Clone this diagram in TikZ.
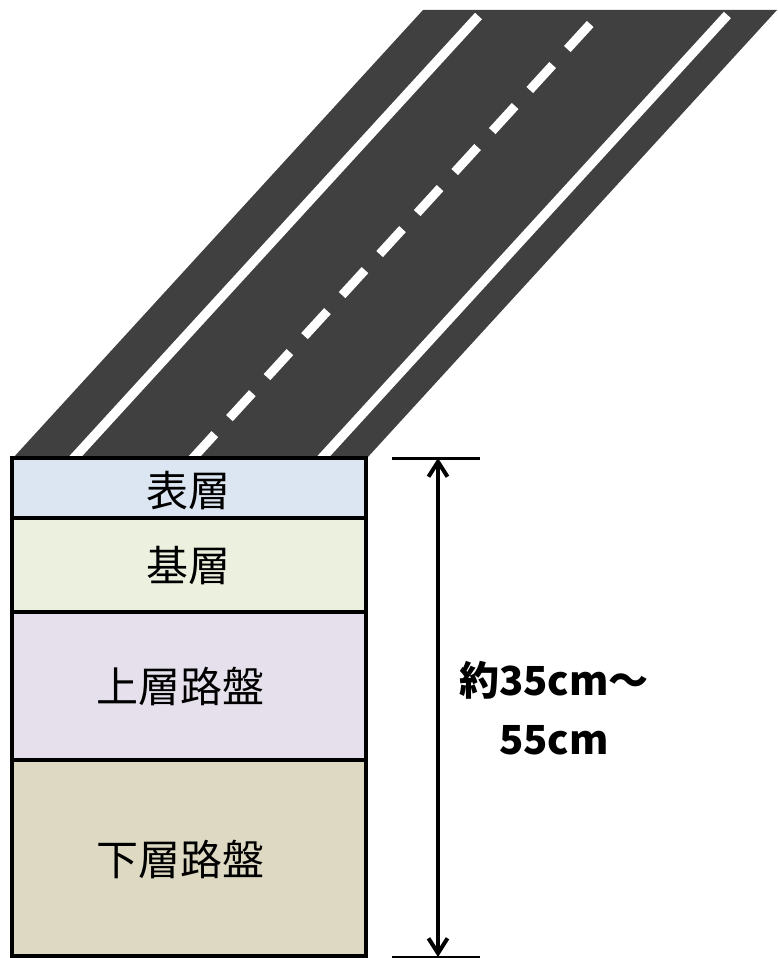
\documentclass[tikz,border=0pt]{standalone}
\usepackage{fontspec}
\newfontfamily\jp{Noto Sans CJK JP}
\usetikzlibrary{arrows.meta}
\definecolor{asphalt}{HTML}{404040}
\definecolor{surfacecol}{HTML}{DCE6F2}
\definecolor{basecol}{HTML}{EBF1DE}
\definecolor{uppercol}{HTML}{E6E0EC}
\definecolor{lowercol}{HTML}{DDD9C3}
\tikzset{
  roadline/.style={white, line width=9.5pt, line cap=butt},
  layerline/.style={black, line width=4pt},
  layerlabel/.style={font=\jp\fontsize{42}{50}\selectfont, inner sep=0pt},
  dimbar/.style={black, line width=3pt},
  dimarrow/.style={black, line width=4pt,
    {Straight Barb[length=15pt,width=19pt]}-{Straight Barb[length=15pt,width=19pt]}},
  dimlabel/.style={font=\jp\bfseries\fontsize{40}{59}\selectfont, align=center, inner sep=0pt}
}
\begin{document}
\begin{tikzpicture}[x=1pt,y=-1pt]
\useasboundingbox (0,0) rectangle (777,958);

% road surface seen in perspective
\fill[asphalt] (13,458) -- (367,458) -- (777,10) -- (423,10) -- cycle;
\begin{scope}
  \clip (13,458) -- (367,458) -- (777,10) -- (423,10) -- cycle;
  % edge lines
  \draw[roadline] (55.7,478) -- (478.5,16);
  \draw[roadline] (303.7,478) -- (727.4,15);
  % centre line, dashed from the far end
  \draw[roadline, line width=9pt, dash pattern=on 33.9pt off 21.7pt]
    (590.2,24) -- (174.7,478);
\end{scope}

% pavement layers
\fill[surfacecol] (12,458) rectangle (366,518);
\fill[basecol]    (12,518) rectangle (366,612);
\fill[uppercol]   (12,612) rectangle (366,760);
\fill[lowercol]   (12,760) rectangle (366,956);
\draw[layerline] (12,518) -- (366,518);
\draw[layerline] (12,612) -- (366,612);
\draw[layerline] (12,760) -- (366,760);
\draw[layerline] (12,458) rectangle (366,956);

\node[layerlabel] (surface) at (188.5,491) {表層};
\node[layerlabel] (base)    at (188.5,566) {基層};
\node[layerlabel] (upper)   at (180,686)   {上層路盤};
\node[layerlabel] (lower)   at (180,859)   {下層路盤};

% overall thickness dimension
\coordinate (dimtop) at (438,458);
\coordinate (dimbot) at (438,957);
\draw[dimbar] (392,458) -- (480,458);
\draw[dimbar] (392,957) -- (480,957);
\draw[dimarrow] (dimtop) -- (dimbot);
\node[dimlabel] (depth) at (554,708) {約35cm～\\55cm};
\end{tikzpicture}
\end{document}
